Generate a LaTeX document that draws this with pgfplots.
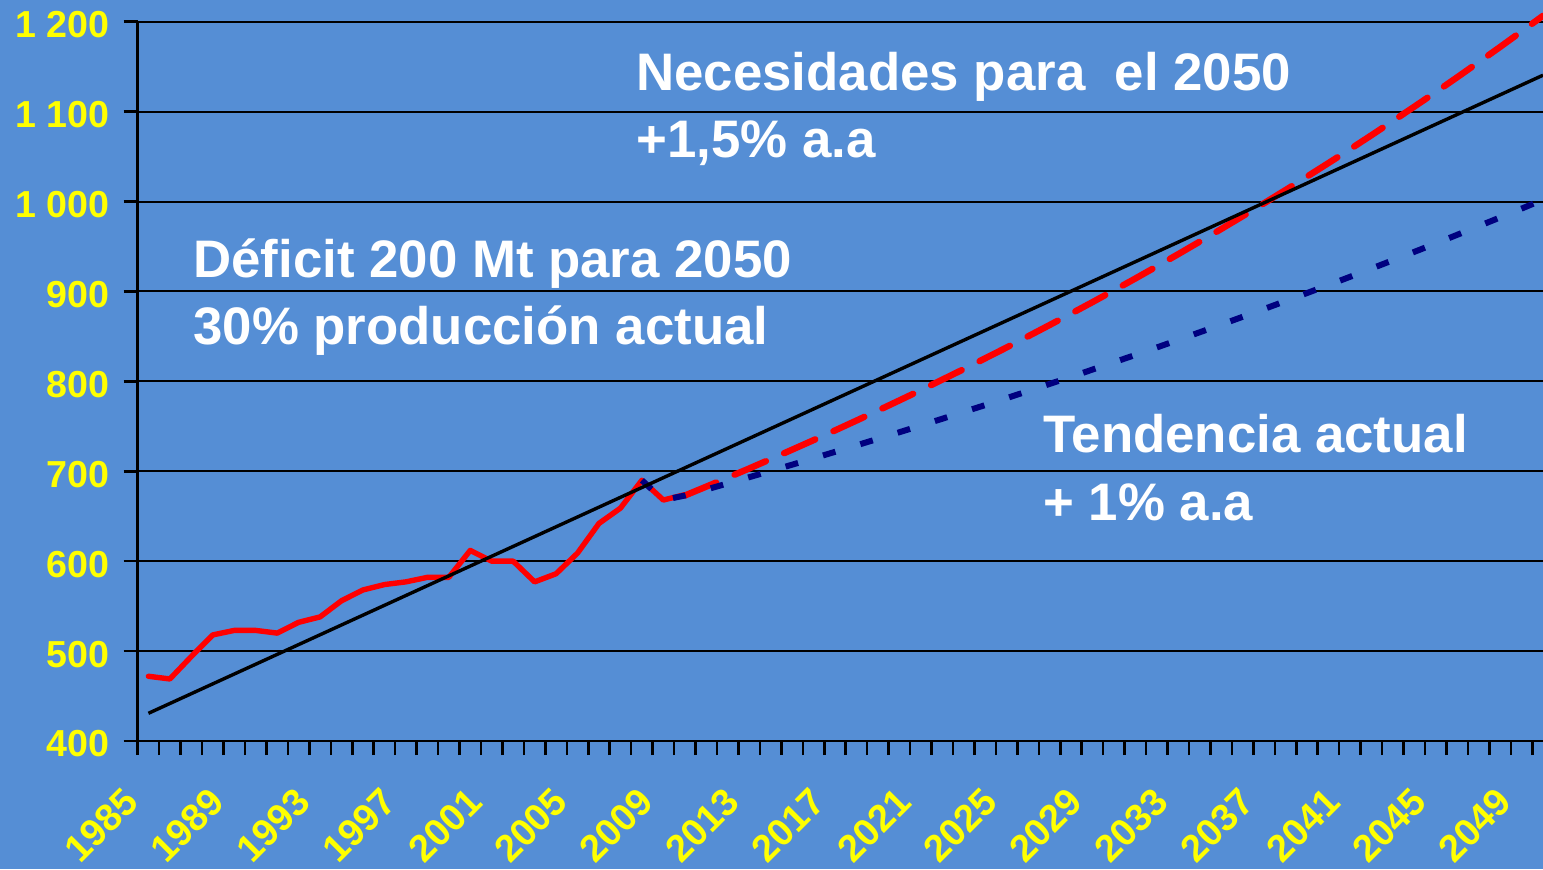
\documentclass[border=0pt]{standalone}
\usepackage{fontspec}
\setmainfont{Liberation Sans}
\usepackage{pgfplots}
\pgfplotsset{compat=1.18}
\definecolor{bg}{RGB}{85,142,213}
\definecolor{navy}{RGB}{0,0,128}
\definecolor{yel}{RGB}{255,255,0}
\begin{document}
\begin{tikzpicture}
\fill[bg] (-68.85pt,-64pt) rectangle (702.65pt,370.5pt);
\begin{axis}[
 at={(0,0)}, anchor=south west,
 scale only axis, width=702.65pt, height=359.65pt,
 xmin=1984.5, xmax=2050, ymin=400, ymax=1200,
 axis lines*=left, axis line style={-, line width=1.25pt, black},
 clip=false,
 ytick={400,500,...,1200},
 yticklabels={400,500,600,700,800,900,1 000,1 100,1 200},
 xtick={1984.5,1985.5,...,2049.5},
 xticklabels={1985,{},{},{},1989,{},{},{},1993,{},{},{},1997,{},{},{},2001,{},{},{},2005,{},{},{},2009,{},{},{},2013,{},{},{},2017,{},{},{},2021,{},{},{},2025,{},{},{},2029,{},{},{},2033,{},{},{},2037,{},{},{},2041,{},{},{},2045,{},{},{},2049,{},{},{}},
 tick align=outside, major tick length=7pt,
 tick style={black, line width=1.25pt},
 ymajorgrids, grid style={black, line width=1pt},
 yticklabel style={font=\fontsize{18.8}{20}\selectfont\bfseries, text=yel, anchor=east, inner sep=0pt, xshift=-7pt, yshift=-1.5pt},
 xticklabel style={font=\fontsize{19}{21}\selectfont\bfseries, text=yel, xshift=-7.85pt, yshift=-15pt, rotate=45, anchor=north east, inner sep=0pt},
]
% historic production
\addplot[red, line width=2.7pt, line join=round, line cap=round] coordinates {
(1985,472) (1986,469) (1987,494) (1988,518) (1989,523) (1990,523) (1991,520)
(1992,532) (1993,538) (1994,556) (1995,568) (1996,574) (1997,577) (1998,582)
(1999,582) (2000,612) (2001,600) (2002,600) (2003,577) (2004,586) (2005,609)
(2006,642) (2007,659) (2008,690) (2009,668) (2010,674)};
% needs +1.5% a.a
\addplot[red, line width=3.2pt, dash pattern=on 17pt off 10pt, line cap=round] coordinates {
(2010,673.0) (2011,682.9) (2012,692.9) (2013,703.1) (2014,713.5) (2015,724.0)
(2016,734.6) (2017,745.4) (2018,756.4) (2019,767.5) (2020,778.8) (2021,790.2)
(2022,801.9) (2023,813.6) (2024,825.6) (2025,837.7) (2026,850.1) (2027,862.6)
(2028,875.3) (2029,888.1) (2030,901.2) (2031,914.4) (2032,927.9) (2033,941.5)
(2034,955.4) (2035,969.4) (2036,983.7) (2037,998.1) (2038,1012.8) (2039,1027.7)
(2040,1042.8) (2041,1058.1) (2042,1073.7) (2043,1089.5) (2044,1105.5) (2045,1121.7)
(2046,1138.2) (2047,1155.0) (2048,1171.9) (2049,1189.2) (2050,1206.6)};
% current trend +1% a.a
\addplot[navy, line width=3pt, dash pattern=on 6.5pt off 13pt] coordinates {
(2008,690) (2009,668) (2010,673.0) (2011,679.7) (2012,686.5) (2013,693.4) (2014,700.3)
(2015,707.3) (2016,714.4) (2017,721.6) (2018,728.8) (2019,736.1) (2020,743.4)
(2021,750.9) (2022,758.4) (2023,766.0) (2024,773.6) (2025,781.3) (2026,789.2)
(2027,797.1) (2028,805.0) (2029,813.1) (2030,821.2) (2031,829.4) (2032,837.7)
(2033,846.1) (2034,854.6) (2035,863.1) (2036,871.8) (2037,880.5) (2038,889.3)
(2039,898.2) (2040,907.2) (2041,916.2) (2042,925.4) (2043,934.7) (2044,944.0)
(2045,953.4) (2046,963.0) (2047,972.6) (2048,982.3) (2049,992.1) (2050,1002.1)};
% linear trend
\addplot[black, line width=1.7pt] coordinates {(1985,430.8) (2050,1140.5)};
\end{axis}
\begin{scope}[every node/.style={anchor=base west, text=white, inner sep=0pt, font=\fontsize{26.4}{30}\selectfont\bfseries}]
\node at (249.15pt,325pt) {Necesidades para\ \ el 2050};
\node at (249.15pt,291.5pt) {+1,5\% a.a};
\node at (27.65pt,232pt) {Déficit 200 Mt para 2050};
\node at (27.65pt,198pt) {30\% producción actual};
\node at (452.65pt,144.5pt) {Tendencia actual};
\node at (452.65pt,110.5pt) {+ 1\% a.a};
\end{scope}
\pgfresetboundingbox
\path (-68.85pt,-64pt) rectangle (702.65pt,370.5pt);
\end{tikzpicture}
\end{document}
